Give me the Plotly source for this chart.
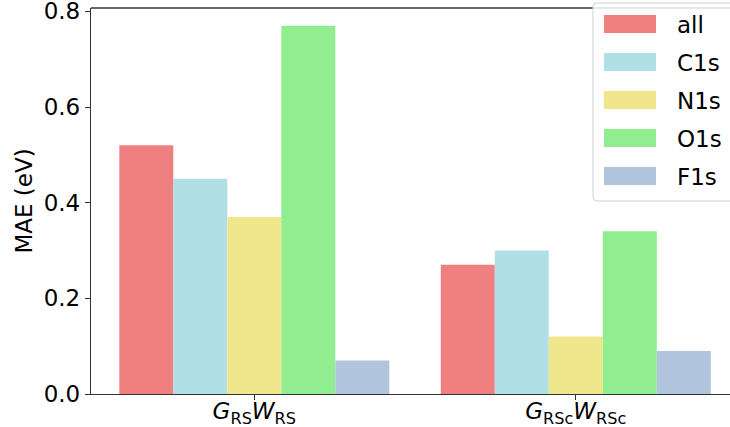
import plotly.graph_objects as go

categories = ["<i>G</i><sub>RS</sub><i>W</i><sub>RS</sub>", "<i>G</i><sub>RSc</sub><i>W</i><sub>RSc</sub>"]
series_names = ["all", "C1s", "N1s", "O1s", "F1s"]
series_colors = ["#F08080", "#B0E0E6", "#F0E68C", "#90EE90", "#B0C4DE"]
val_all = [0.52, 0.27]
val_c1s = [0.45, 0.30]
val_n1s = [0.37, 0.12]
val_o1s = [0.77, 0.34]
val_f1s = [0.07, 0.09]
series_values = [val_all, val_c1s, val_n1s, val_o1s, val_f1s]

W, H = 730, 427
L, R, T, B = 91, 0, 8, 33
pw, ph = W - L - R, H - T - B

def px2x(px):
    return (px - L) / pw

def px2y(py):
    return (H - B - py) / ph

FONT = "DejaVu Sans"
FS = 23
fig = go.Figure()
for name, color, vals in zip(series_names, series_colors, series_values):
    fig.add_trace(go.Bar(x=[0, 1], y=vals, name=name, marker=dict(color=color, line=dict(width=0)),
                         showlegend=False, hoverinfo="skip"))

fig.update_layout(
    width=W, height=H,
    margin=dict(l=L, r=R, t=T, b=B, pad=0, autoexpand=False),
    plot_bgcolor="white", paper_bgcolor="white",
    barmode="group", bargap=0.16, bargroupgap=0,
    font=dict(family=FONT, size=FS, color="black"),
    xaxis=dict(range=[-0.508, 1.4797], tickmode="array", tickvals=[0, 1], ticktext=categories,
               showgrid=False, zeroline=False, showline=True, linecolor="#333", linewidth=1.3,
               ticks="outside", ticklen=5, tickcolor="#333", tickwidth=1.3, automargin=False,
               ticklabelstandoff=-9, ticklabeloverflow="allow",
               tickfont=dict(family=FONT, size=FS)),
    yaxis=dict(range=[0, 0.807], tickvals=[0, 0.2, 0.4, 0.6, 0.8], tickformat=".1f",
               showgrid=False, zeroline=False, showline=True, linecolor="#333", linewidth=1.3,
               ticks="outside", ticklen=5, tickcolor="#333", tickwidth=1.3, automargin=False,
               ticklabeloverflow="allow",
               title=dict(text="MAE (eV)", font=dict(family=FONT, size=FS), standoff=4),
               tickfont=dict(family=FONT, size=FS)),
)

# top spine
fig.add_shape(type="line", xref="paper", yref="paper", x0=0, x1=1, y0=1, y1=1,
              line=dict(color="#333", width=1.3))

# legend box (rounded)
x0, x1, y0, y1, r = 593, 745, 3, 201, 4
path = (f"M {px2x(x0+r)},{px2y(y0)} L {px2x(x1)},{px2y(y0)} L {px2x(x1)},{px2y(y1)} "
        f"L {px2x(x0+r)},{px2y(y1)} Q {px2x(x0)},{px2y(y1)} {px2x(x0)},{px2y(y1-r)} "
        f"L {px2x(x0)},{px2y(y0+r)} Q {px2x(x0)},{px2y(y0)} {px2x(x0+r)},{px2y(y0)} Z")
fig.add_shape(type="path", xref="paper", yref="paper", path=path,
              line=dict(color="#d0d0d0", width=1), fillcolor="rgba(255,255,255,0.85)")

for i, (name, color) in enumerate(zip(series_names, series_colors)):
    cy = 24 + 38 * i
    fig.add_shape(type="rect", xref="paper", yref="paper",
                  x0=px2x(604), x1=px2x(656), y0=px2y(cy - 9), y1=px2y(cy + 9),
                  line=dict(width=0), fillcolor=color)
    fig.add_annotation(xref="paper", yref="paper", x=px2x(675), y=px2y(cy + 1), text=name,
                       showarrow=False, xanchor="left", yanchor="middle",
                       font=dict(family=FONT, size=FS, color="black"))

fig.write_html("out.html", config={"displayModeBar": False},
               post_script="document.body.style.margin='0';document.body.style.overflow='hidden';")
